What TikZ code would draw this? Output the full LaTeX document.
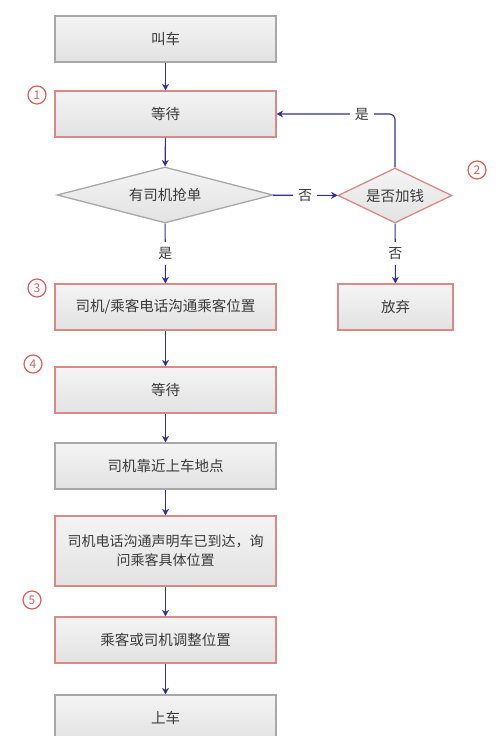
\documentclass[tikz,border=0pt]{standalone}
\usepackage{fontspec}
\setmainfont{Noto Sans CJK SC}
\usetikzlibrary{shapes.geometric,arrows.meta}
\definecolor{boxgray}{HTML}{A8A8A8}
\definecolor{boxred}{HTML}{D98A88}
\definecolor{arrowblue}{HTML}{2F2F9E}
\definecolor{numred}{HTML}{D9605C}
\definecolor{txt}{HTML}{3A3A3A}
\definecolor{filltop}{HTML}{F4F4F4}
\definecolor{fillbot}{HTML}{E2E2E2}
\begin{document}
\begin{tikzpicture}[x=1pt,y=-1pt,
  box/.style={rectangle, minimum width=221pt, minimum height=46pt, inner sep=2pt,
    top color=filltop, bottom color=fillbot, text=txt, line width=1.3pt,
    font=\fontsize{14.5}{19}\selectfont},
  graybox/.style={box, draw=boxgray},
  redbox/.style={box, draw=boxred},
  dec/.style={diamond, inner sep=0pt, top color=filltop, bottom color=fillbot,
    line width=1.3pt, label={[text=txt, font=\fontsize{14.5}{17}\selectfont]center:#1}},
  arr/.style={draw=arrowblue, line width=1.1pt, -{Stealth[length=6.5pt,width=7pt]}},
  lab/.style={fill=white, text=txt, inner sep=5pt, font=\fontsize{14}{17}\selectfont},
  num/.style={circle, draw=numred, text=numred, line width=1.2pt, minimum size=18pt,
    inner sep=0pt, font=\fontsize{12}{12}\selectfont}
]
\useasboundingbox (0,0) rectangle (500,736);
\clip (0,0) rectangle (500,736);

\node[graybox] (call) at (165.5,39) {叫车};
\node[redbox] (wait1) at (165.5,114) {等待};
\node[dec=有司机抢单, draw=boxgray, minimum width=216pt, minimum height=56pt] (grab) at (165,195) {};
\node[dec=是否加钱, draw=boxred, minimum width=114pt, minimum height=55pt] (more) at (395,195.5) {};
\node[redbox] (phone) at (165.5,307) {司机/乘客电话沟通乘客位置};
\node[redbox, minimum width=115pt] (give) at (395.5,307) {放弃};
\node[redbox] (wait2) at (165.5,390) {等待};
\node[graybox] (near) at (165.5,466) {司机靠近上车地点};
\node[redbox, minimum height=70pt, align=center, font=\fontsize{14}{19}\selectfont] (arrive) at (165.5,551) {司机电话沟通声明车已到达，询\\问乘客具体位置};
\node[redbox] (adjust) at (165.5,640) {乘客或司机调整位置};
\node[graybox] (board) at (165.5,718) {上车};

\draw[arr] (call) -- (wait1);
\draw[arr] (wait1) -- (grab);
\draw[arr] (grab) -- node[lab]{是} (phone);
\draw[arr] (grab) -- node[lab]{否} (more);
\draw[arr] (more) -- node[lab]{否} (give);
\draw[arr, rounded corners=5pt] (more.north) |- node[lab, pos=0.64]{是} (wait1.east);
\draw[arr] (phone) -- (wait2);
\draw[arr] (wait2) -- (near);
\draw[arr] (near) -- (arrive);
\draw[arr] (arrive) -- (adjust);
\draw[arr] (adjust) -- (board);

\node[num] (n1) at (37,95) {1};
\node[num] (n2) at (477,170) {2};
\node[num] (n3) at (37,288) {3};
\node[num] (n4) at (33,364) {4};
\node[num] (n5) at (32,600) {5};
\end{tikzpicture}
\end{document}
